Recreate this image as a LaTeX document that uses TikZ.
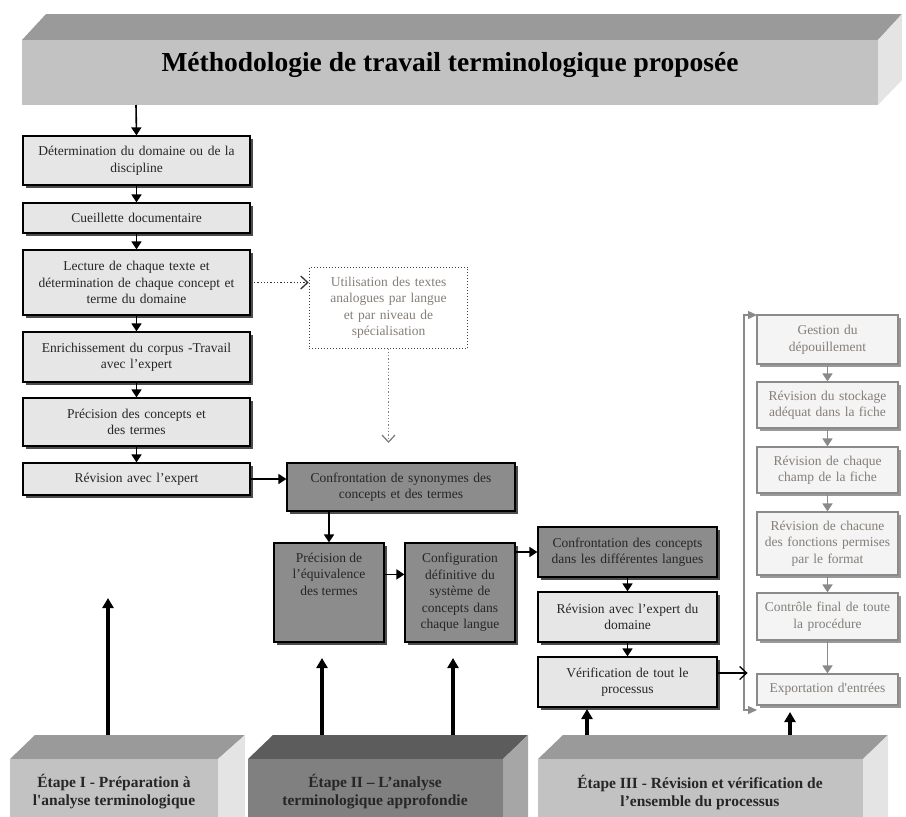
\documentclass[tikz,border=0pt]{standalone}
\usepackage{fontspec}
\setmainfont{Liberation Serif}
\usetikzlibrary{arrows.meta,shadows,calc}
\definecolor{lfill}{HTML}{E6E6E6}
\definecolor{dfill}{HTML}{8C8C8C}
\definecolor{rfill}{HTML}{F4F4F4}
\definecolor{rline}{HTML}{8A8A8A}
\definecolor{rtext}{HTML}{857E78}
\definecolor{btop}{HTML}{9A9A9A}
\definecolor{bfront}{HTML}{C2C2C2}
\definecolor{bside}{HTML}{E4E4E4}
\definecolor{dtop}{HTML}{5C5C5C}
\definecolor{dfront}{HTML}{808080}
\definecolor{dside}{HTML}{A6A6A6}
\begin{document}
\begin{tikzpicture}[x=1pt,y=-1pt,
  boxtext/.style={font=\fontsize{13.5}{16.5}\selectfont, align=center},
  lbox/.style={boxtext, draw=black, line width=1.2pt, fill=lfill, text=black!85, inner sep=2pt,
    drop shadow={shadow xshift=3pt, shadow yshift=-3pt, fill=black!70, opacity=1}},
  dbox/.style={lbox, fill=dfill},
  rbox/.style={boxtext, draw=rline, line width=1.2pt, fill=rfill, text=rtext, inner sep=2pt,
    drop shadow={shadow xshift=3pt, shadow yshift=-3pt, fill=black!40, opacity=1}},
  arr/.style={line width=1.6pt, -{Triangle[length=8pt,width=10pt]}},
  garr/.style={rline, line width=1.6pt, -{Triangle[length=8pt,width=10pt]}},
  openarr/.style={line width=1.3pt, -{Straight Barb[length=7pt,width=13pt]}},
  dotarr/.style={line width=1.3pt, dotted, -{Straight Barb[length=7pt,width=13pt]}},
  bigarr/.style={line width=3.5pt, -{Triangle[length=10pt,width=11pt]}},
  stagefont/.style={font=\bfseries\fontsize{15.5}{18}\selectfont, align=center, text=black!85},
]
\useasboundingbox (0,0) rectangle (906,817);

% title banner
\fill[btop] (22,40) -- (46,14) -- (902,14) -- (878,40) -- cycle;
\fill[bfront] (22,40) rectangle (878,105);
\fill[bside] (878,40) -- (902,14) -- (902,80) -- (878,105) -- cycle;
\node[font=\bfseries\fontsize{27.5}{30}\selectfont] (title) at (450,65) {Méthodologie de travail terminologique proposée};
\coordinate (tb) at (136,105);

% left column
\node[lbox, minimum width=227pt, minimum height=49pt, text width=219pt] (B1) at (136.5,160.5) {Détermination du domaine ou de la\\discipline};
\node[lbox, minimum width=227pt, minimum height=30pt, text width=219pt] (B2) at (136.5,218) {Cueillette documentaire};
\node[lbox, minimum width=227pt, minimum height=65pt, text width=219pt] (B3) at (136.5,282.5) {Lecture de chaque texte et\\détermination de chaque concept et\\terme du domaine};
\node[lbox, minimum width=227pt, minimum height=50pt, text width=219pt] (B4) at (136.5,357) {Enrichissement du corpus -Travail\\avec l’expert};
\node[lbox, minimum width=227pt, minimum height=48pt, text width=219pt] (B5) at (136.5,422) {Précision des concepts et\\des termes};
\node[lbox, minimum width=227pt, minimum height=32pt, text width=219pt] (B6) at (136.5,479) {Révision avec l’expert};

\draw[arr] (tb) -- (B1.north);
\draw[arr] (B1.south) -- (B2.north);
\draw[arr] (B2.south) -- (B3.north);
\draw[arr] (B3.south) -- (B4.north);
\draw[arr] (B4.south) -- (B5.north);
\draw[arr] (B5.south) -- (B6.north);

% dotted box
\node[boxtext, draw=black!75, line width=1pt, dotted, text=rtext, minimum width=157pt, minimum height=81pt, text width=152pt] (U) at (388.5,307.5) {Utilisation des textes\\analogues par langue\\et par niveau de\\spécialisation};
\draw[dotarr, black!80] (B3.east) -- (B3.east -| U.west);
\coordinate (ud) at (388.5,443);
\draw[dotarr, black!50] (U.south) -- (ud);

% middle
\node[dbox, minimum width=228pt, minimum height=48pt, text width=220pt] (C1) at (401,487) {Confrontation de synonymes des\\concepts et des termes};
\draw[arr] (B6.east) -- (B6.east -| C1.west);

\node[dbox, minimum width=110pt, minimum height=99pt] (P) at (329,592.5) {};
\node[boxtext, text=black!85] (Pt) at (329,574) {Précision de\\l’équivalence\\des termes};
\node[dbox, minimum width=110pt, minimum height=99pt, text width=106pt] (CF) at (460,592.5) {Configuration\\définitive du\\système de\\concepts dans\\chaque langue};
\draw[arr] (P.north |- C1.south) -- (P.north);
\draw[arr] ($(P.north east)+(0,32)$) -- ($(CF.north west)+(0,32)$);

\node[dbox, minimum width=179pt, minimum height=50pt, text width=174pt] (D1) at (627.5,552) {Confrontation des concepts\\dans les différentes langues};
\node[lbox, minimum width=179pt, minimum height=50pt, text width=174pt] (R2) at (627.5,617) {Révision avec l’expert du\\domaine};
\node[lbox, minimum width=179pt, minimum height=50pt, text width=174pt] (V) at (627.5,682) {Vérification de tout le\\processus};
\draw[arr] (D1.west -| CF.east) -- (D1.west);
\draw[arr] (D1.south) -- (R2.north);
\draw[arr] (R2.south) -- (V.north);

% right column
\node[rbox, minimum width=141pt, minimum height=49pt, text width=137pt] (G1) at (827.5,339.5) {Gestion du\\dépouillement};
\node[rbox, minimum width=141pt, minimum height=46pt, text width=137pt] (G2) at (827.5,405) {Révision du stockage\\adéquat dans la fiche};
\node[rbox, minimum width=141pt, minimum height=46pt, text width=137pt] (G3) at (827.5,470) {Révision de chaque\\champ de la fiche};
\node[rbox, minimum width=141pt, minimum height=63pt, text width=137pt] (G4) at (827.5,543.5) {Révision de chacune\\des fonctions permises\\par le format};
\node[rbox, minimum width=141pt, minimum height=47pt, text width=137pt] (G5) at (827.5,616.5) {Contrôle final de toute\\la procédure};
\node[rbox, minimum width=141pt, minimum height=31pt, text width=137pt] (E) at (827.5,689.5) {Exportation d\textquotesingle entrées};
\draw[garr] (G1.south) -- (G2.north);
\draw[garr] (G2.south) -- (G3.north);
\draw[garr] (G3.south) -- (G4.north);
\draw[garr] (G4.south) -- (G5.north);
\draw[garr] (G5.south) -- (E.north);
\coordinate (fb) at (757,710);
\coordinate (ft) at (757,315);
\draw[rline, line width=1.3pt, {Triangle[length=9pt,width=8pt]}-{Triangle[length=9pt,width=8pt]}] (fb) -- (744,710) -- (744,315) -- (ft);
\draw[openarr] ($(V.east)+(0,-9)$) -- ++(30,0);

% stage blocks
\fill[btop] (10,759) -- (35,735) -- (245,735) -- (218,759) -- cycle;
\fill[bfront] (10,759) rectangle (218,830);
\fill[bside] (218,759) -- (245,735) -- (245,830) -- (218,830) -- cycle;
\node[stagefont] (S1) at (114,792) {Étape I - Préparation à\\l\textquotesingle analyse terminologique};

\fill[dtop] (248,759) -- (273,735) -- (528,735) -- (503,759) -- cycle;
\fill[dfront] (248,759) rectangle (503,830);
\fill[dside] (503,759) -- (528,735) -- (528,830) -- (503,830) -- cycle;
\node[stagefont] (S2) at (375,792) {Étape II – L’analyse\\terminologique approfondie};

\fill[btop] (538,759) -- (563,735) -- (888,735) -- (863,759) -- cycle;
\fill[bfront] (538,759) rectangle (863,830);
\fill[bside] (863,759) -- (888,735) -- (888,830) -- (863,830) -- cycle;
\node[stagefont] (S3) at (700,792) {Étape III - Révision et vérification de\\l’ensemble du processus};

\coordinate (a1) at (108,735); \coordinate (a1t) at (108,598);
\coordinate (a2) at (322,735); \coordinate (a2t) at (322,658);
\coordinate (a3) at (453,735); \coordinate (a3t) at (453,658);
\coordinate (a4) at (587,735); \coordinate (a4t) at (587,709);
\coordinate (a5) at (790,735); \coordinate (a5t) at (790,712);
\draw[bigarr] (a1) -- (a1t);
\draw[bigarr] (a2) -- (a2t);
\draw[bigarr] (a3) -- (a3t);
\draw[bigarr] (a4) -- (a4t);
\draw[bigarr] (a5) -- (a5t);
\end{tikzpicture}
\end{document}
